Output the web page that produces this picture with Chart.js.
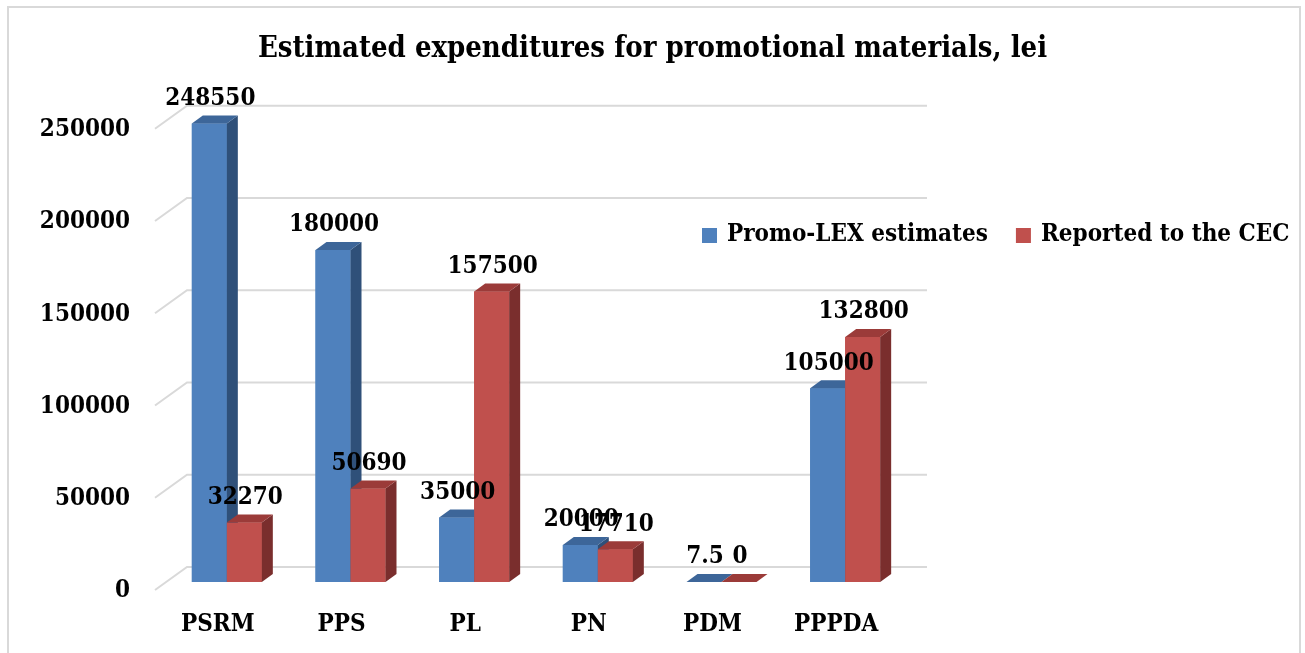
<!DOCTYPE html>
<html>
<head>
<meta charset="utf-8">
<script src="https://cdn.jsdelivr.net/npm/chart.js@4/dist/chart.umd.min.js"></script>
<style>
  html, body { margin: 0; padding: 0; background: #ffffff; overflow: hidden; }
  #wrap { position: relative; width: 1305px; height: 653px; }
  #frame { position: absolute; left: 7px; top: 6px; width: 1290px; height: 700px;
           border: 2px solid #d9d9d9; border-bottom: none; pointer-events: none; }
  canvas { position: absolute; left: 0; top: 0; }
</style>
</head>
<body>
<div id="wrap">
  <canvas id="c" width="1305" height="653"></canvas>
  <div id="frame"></div>
</div>
<script>
// ---- data ----
const categories = ['PSRM', 'PPS', 'PL', 'PN', 'PDM', 'PPPDA'];
const promoLexEstimates = [248550, 180000, 35000, 20000, 7.5, 105000];
const reportedToCEC = [32270, 50690, 157500, 17710, 0, 132800];
const seriesNames = ['Promo-LEX estimates', 'Reported to the CEC'];
const titleText = 'Estimated expenditures for promotional materials, lei';
const yMin = 0, yMax = 250000, yStep = 50000;

// ---- style ----
const FONT = '"DejaVu Serif Condensed", "DejaVu Serif", serif';
const BLUE = { front: '#4F81BD', top: '#3D6699', side: '#2F5079' };
const RED  = { front: '#C0504D', top: '#9B3B39', side: '#7A2E2D' };
const DEPTH_X = 11, DEPTH_Y = 8;
const GRID = '#d9d9d9';

function drawFaces(ctx, el, col) {
  const p = el.getProps(['x', 'y', 'base', 'width'], true);
  const l = p.x - p.width / 2, r = p.x + p.width / 2;
  const top = Math.min(p.y, p.base), bot = Math.max(p.y, p.base);
  ctx.fillStyle = col.side;
  ctx.beginPath();
  ctx.moveTo(r, top);
  ctx.lineTo(r + DEPTH_X, top - DEPTH_Y);
  ctx.lineTo(r + DEPTH_X, bot - DEPTH_Y);
  ctx.lineTo(r, bot);
  ctx.closePath();
  ctx.fill();
  ctx.fillStyle = col.top;
  ctx.beginPath();
  ctx.moveTo(l, top);
  ctx.lineTo(l + DEPTH_X, top - DEPTH_Y);
  ctx.lineTo(r + DEPTH_X, top - DEPTH_Y);
  ctx.lineTo(r, top);
  ctx.closePath();
  ctx.fill();
}

const threeD = {
  id: 'threeD',
  beforeDatasetsDraw(chart) {
    const ctx = chart.ctx, ca = chart.chartArea, ys = chart.scales.y;
    ctx.save();
    ctx.strokeStyle = GRID;
    ctx.lineWidth = 2;
    for (let v = yMin; v <= yMax; v += yStep) {
      const yp = ys.getPixelForValue(v);
      ctx.beginPath();
      ctx.moveTo(ca.left - 10, yp + 8);
      ctx.lineTo(ca.left + 22, yp - 15);
      ctx.lineTo(ca.right + 20, yp - 15);
      ctx.stroke();
    }
    ctx.restore();
  },
  afterDatasetsDraw(chart) {
    const ctx = chart.ctx;
    // 3D pass: per category, blue then red (front, side, top)
    ctx.save();
    const metas = chart.data.datasets.map((ds, i) => chart.getDatasetMeta(i));
    const cols = [BLUE, RED];
    categories.forEach((c, j) => {
      metas.forEach((meta, i) => {
        const el = meta.data[j];
        el.draw(ctx, chart.chartArea);
        drawFaces(ctx, el, cols[i]);
      });
    });
    ctx.restore();
    // value labels
    ctx.save();
    ctx.font = 'bold 24px ' + FONT;
    ctx.fillStyle = '#000';
    ctx.textAlign = 'center';
    ctx.textBaseline = 'middle';
    chart.data.datasets.forEach((ds, i) => {
      const meta = chart.getDatasetMeta(i);
      meta.data.forEach((el, j) => {
        ctx.fillText(String(ds.data[j]), el.x + 1, el.y - 25);
      });
    });
    ctx.restore();
  },
  afterDraw(chart) {
    const ctx = chart.ctx;
    ctx.save();
    ctx.font = 'bold 24px ' + FONT;
    ctx.textBaseline = 'middle';
    ctx.textAlign = 'left';
    let x = 702;
    const yc = 235;
    chart.data.datasets.forEach((ds, i) => {
      ctx.fillStyle = ds.backgroundColor;
      ctx.fillRect(x, yc - 7, 15, 15);
      x += 25;
      ctx.fillStyle = '#000';
      ctx.fillText(ds.label, x, yc);
      x += ctx.measureText(ds.label).width + 28;
      if (i === 0) x -= 0;
    });
    ctx.restore();
  }
};

const tickFont = { family: FONT, size: 24, weight: 'bold' };

new Chart(document.getElementById('c'), {
  type: 'bar',
  data: {
    labels: categories,
    datasets: [
      { label: seriesNames[0], data: promoLexEstimates, backgroundColor: BLUE.front },
      { label: seriesNames[1], data: reportedToCEC, backgroundColor: RED.front }
    ]
  },
  options: {
    responsive: false,
    animation: false,
    devicePixelRatio: 1,
    layout: { padding: { left: 0, right: 0, top: 0, bottom: 0 } },
    datasets: { bar: { categoryPercentage: 0.566, barPercentage: 1.0 } },
    plugins: {
      legend: { display: false },
      tooltip: { enabled: false },
      title: {
        display: true,
        text: titleText,
        color: '#000',
        font: { family: FONT, size: 29, weight: 'bold', lineHeight: 1.2 },
        padding: { top: 32, bottom: 54 }
      }
    },
    scales: {
      x: {
        grid: { display: false, drawTicks: false },
        border: { display: false },
        ticks: { font: tickFont, color: '#000', padding: 28, labelOffset: -9, maxRotation: 0 },
        afterFit: s => { s.height = 71; }
      },
      y: {
        min: yMin, max: yMax,
        grid: { display: false, drawTicks: false },
        border: { display: false },
        ticks: { stepSize: yStep, font: tickFont, color: '#000', padding: 35, labelOffset: 9,
                 callback: v => String(v) },
        afterFit: s => { s.width = 165; }
      },
      yRightSpace: {
        position: 'right',
        grid: { display: false, drawTicks: false },
        border: { display: false },
        ticks: { display: false },
        afterFit: s => { s.width = 398; }
      }
    }
  },
  plugins: [threeD]
});
</script>
</body>
</html>
